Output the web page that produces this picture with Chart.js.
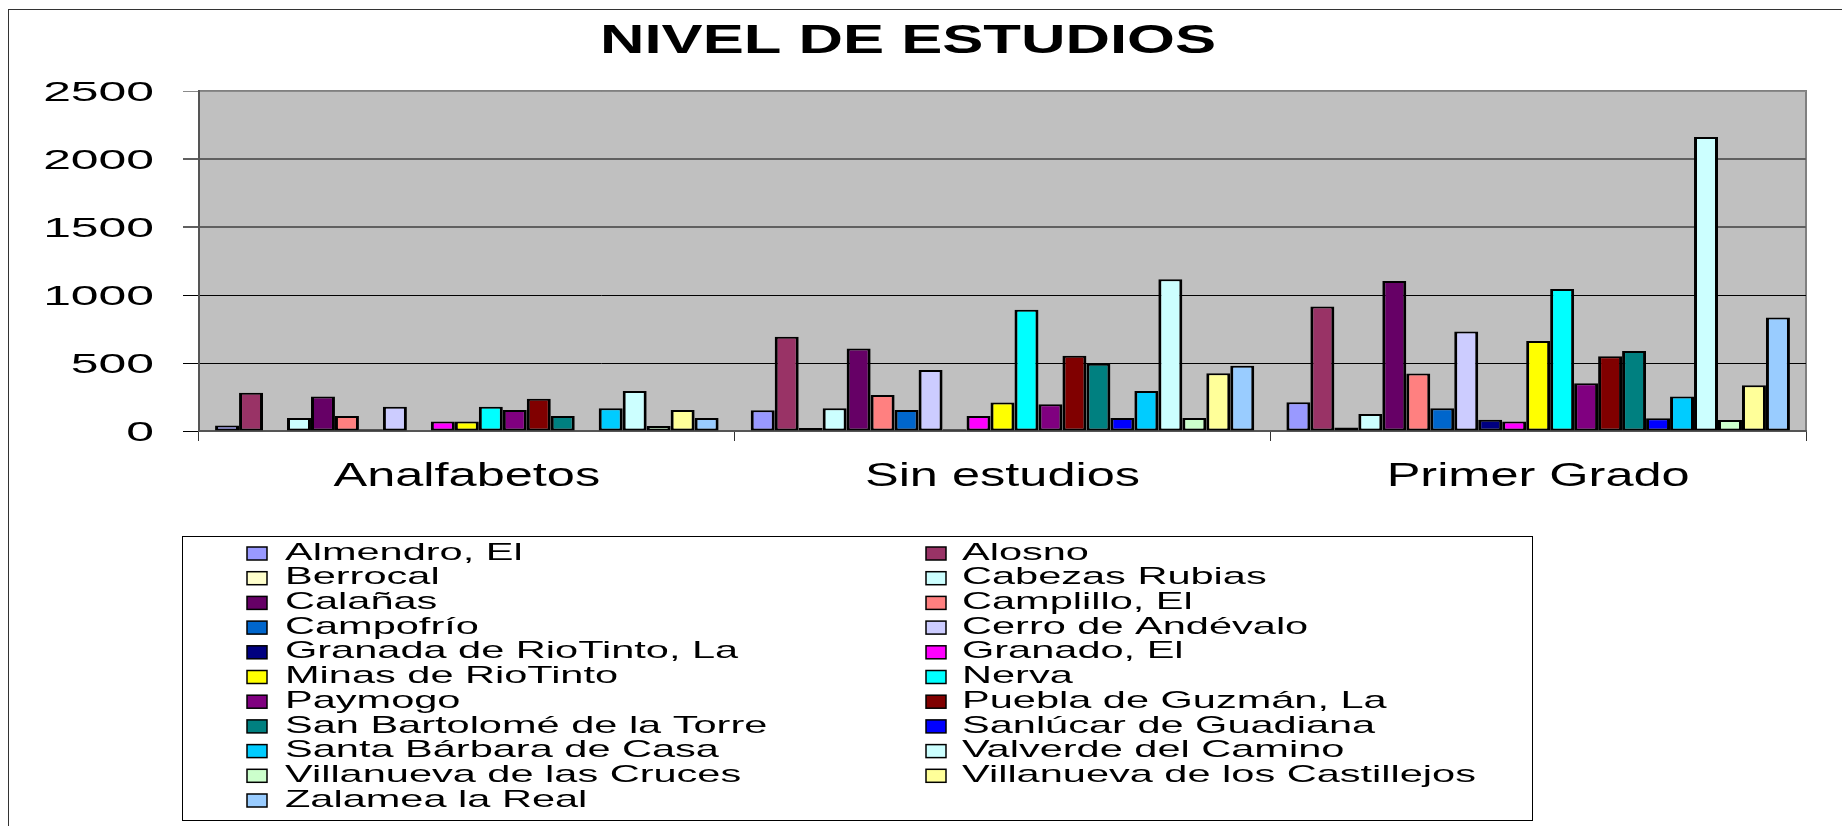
<!DOCTYPE html>
<html>
<head>
<meta charset="utf-8">
<title>Nivel de estudios</title>
<script src="https://cdn.jsdelivr.net/npm/chart.js"></script>
<style>
  html, body { margin: 0; padding: 0; background: #fff; }
  canvas { display: block; }
</style>
</head>
<body>
<canvas id="chart" width="1842" height="826"></canvas>
<script>
// categorias del eje X
const categories = ['Analfabetos', 'Sin estudios', 'Primer Grado'];

const municipios = [
  'Almendro, El', 'Alosno', 'Berrocal', 'Cabezas Rubias', 'Calañas', 'Camplillo, El',
  'Campofrío', 'Cerro de Andévalo', 'Granada de RioTinto, La', 'Granado, El',
  'Minas de RioTinto', 'Nerva', 'Paymogo', 'Puebla de Guzmán, La',
  'San Bartolomé de la Torre', 'Sanlúcar de Guadiana', 'Santa Bárbara de Casa',
  'Valverde del Camino', 'Villanueva de las Cruces', 'Villanueva de los Castillejos',
  'Zalamea la Real'
];

// valores por categoria, en el orden de municipios
const analfabetos = [40, 282, 0, 95, 253, 110, 12, 179, 0, 69, 69, 179, 155, 238, 110, 0, 167, 295, 37, 155, 96];
const sinEstudios = [152, 693, 22, 167, 607, 265, 155, 449, 12, 110, 209, 891, 196, 553, 494, 96, 295, 1115, 96, 425, 479];
const primerGrado = [211, 916, 25, 125, 1103, 422, 167, 732, 83, 69, 661, 1044, 351, 550, 589, 93, 253, 2161, 81, 336, 835];

const yTicks = [0, 500, 1000, 1500, 2000, 2500];

const colores = [
  '#9999FF', '#993366', '#FFFFCC', '#CCFFFF', '#660066', '#FF8080', '#0066CC',
  '#CCCCFF', '#000080', '#FF00FF', '#FFFF00', '#00FFFF', '#800080', '#800000',
  '#008080', '#0000FF', '#00CCFF', '#CCFFFF', '#CCFFCC', '#FFFF99', '#99CCFF'
];

const FONT = "'Liberation Sans', Arial, sans-serif";

// texto estirado en horizontal, como en la imagen original
function stretchText(ctx, text, x, y, sx, align) {
  ctx.save();
  ctx.translate(x, y);
  ctx.scale(sx, 1);
  ctx.textAlign = align;
  ctx.textBaseline = 'alphabetic';
  ctx.fillText(text, 0, 0);
  ctx.restore();
}

const decorPlugin = {
  id: 'decor',
  beforeDraw(chart) {
    const ctx = chart.ctx;
    const a = chart.chartArea;
    ctx.save();
    ctx.fillStyle = '#fff';
    ctx.fillRect(0, 0, chart.width, chart.height);
    // marco del grafico
    ctx.strokeStyle = '#333';
    ctx.lineWidth = 1;
    ctx.strokeRect(8.5, 9.5, chart.width + 20, chart.height + 20);
    // area de trazado
    ctx.fillStyle = '#C0C0C0';
    ctx.fillRect(a.left, a.top, a.right - a.left, a.bottom - a.top);
    ctx.strokeStyle = '#808080';
    ctx.lineWidth = 2;
    ctx.strokeRect(a.left, a.top, a.right - a.left, a.bottom - a.top);
    ctx.restore();
  },
  afterDraw(chart) {
    const ctx = chart.ctx;
    const x = chart.scales.x;
    const y = chart.scales.y;
    ctx.save();
    ctx.fillStyle = '#000';

    // titulo
    ctx.font = 'bold 40px ' + FONT;
    stretchText(ctx, 'NIVEL DE ESTUDIOS', 908, 53, 1.54, 'center');

    // etiquetas eje Y
    ctx.font = '28px ' + FONT;
    yTicks.forEach(v => {
      stretchText(ctx, String(v), 154, y.getPixelForValue(v) + 10, 1.78, 'right');
    });

    // etiquetas eje X
    ctx.font = '33px ' + FONT;
    categories.forEach((c, i) => {
      stretchText(ctx, c, x.getPixelForValue(i), 486, 1.53, 'center');
    });

    // leyenda
    ctx.strokeStyle = '#000';
    ctx.lineWidth = 1;
    ctx.strokeRect(182.5, 536.5, 1350, 284);
    ctx.font = '24px ' + FONT;
    chart.data.datasets.forEach((ds, i) => {
      const col = i % 2;
      const row = Math.floor(i / 2);
      const cy = 551 + row * 24.7;
      const bx = col ? 926 : 247;
      const tx = col ? 962 : 285;
      ctx.fillStyle = ds.backgroundColor;
      ctx.fillRect(bx, cy - 4, 20, 13);
      ctx.lineWidth = 1.5;
      ctx.strokeRect(bx, cy - 4, 20, 13);
      ctx.fillStyle = '#000';
      stretchText(ctx, ds.label, tx, cy + 8.6, 1.73, 'left');
    });
    ctx.restore();
  }
};

const datasets = municipios.map((m, i) => ({
  label: m,
  data: [analfabetos[i], sinEstudios[i], primerGrado[i]],
  backgroundColor: colores[i],
  borderColor: '#000',
  borderWidth: { top: 2, bottom: 2, left: 3, right: 3 },
  borderSkipped: false,
  categoryPercentage: 0.94,
  barPercentage: 1.0
}));

new Chart(document.getElementById('chart'), {
  type: 'bar',
  data: { labels: categories, datasets: datasets },
  plugins: [decorPlugin],
  options: {
    responsive: false,
    animation: false,
    devicePixelRatio: 1,
    layout: { padding: { left: 183, top: 91, right: 36, bottom: 385 } },
    plugins: {
      legend: { display: false },
      title: { display: false },
      tooltip: { enabled: false }
    },
    scales: {
      x: {
        ticks: { display: false },
        grid: {
          offset: true,
          drawOnChartArea: false,
          drawTicks: true,
          tickLength: 10,
          color: '#333',
          lineWidth: 1
        },
        border: { color: '#555', width: 2 }
      },
      y: {
        min: 0,
        max: 2500,
        ticks: { display: false, stepSize: 500 },
        grid: {
          drawTicks: true,
          tickLength: 16,
          color: c => (c.tick && (c.tick.value === 1500 || c.tick.value === 2000)) ? '#606060' : (c.tick && c.tick.value === 2500 ? '#8a8a8a' : '#000'),
          lineWidth: c => (c.tick && (c.tick.value === 1500 || c.tick.value === 2000)) ? 2 : 1
        },
        border: { color: '#555', width: 2 }
      }
    }
  }
});
</script>
</body>
</html>
